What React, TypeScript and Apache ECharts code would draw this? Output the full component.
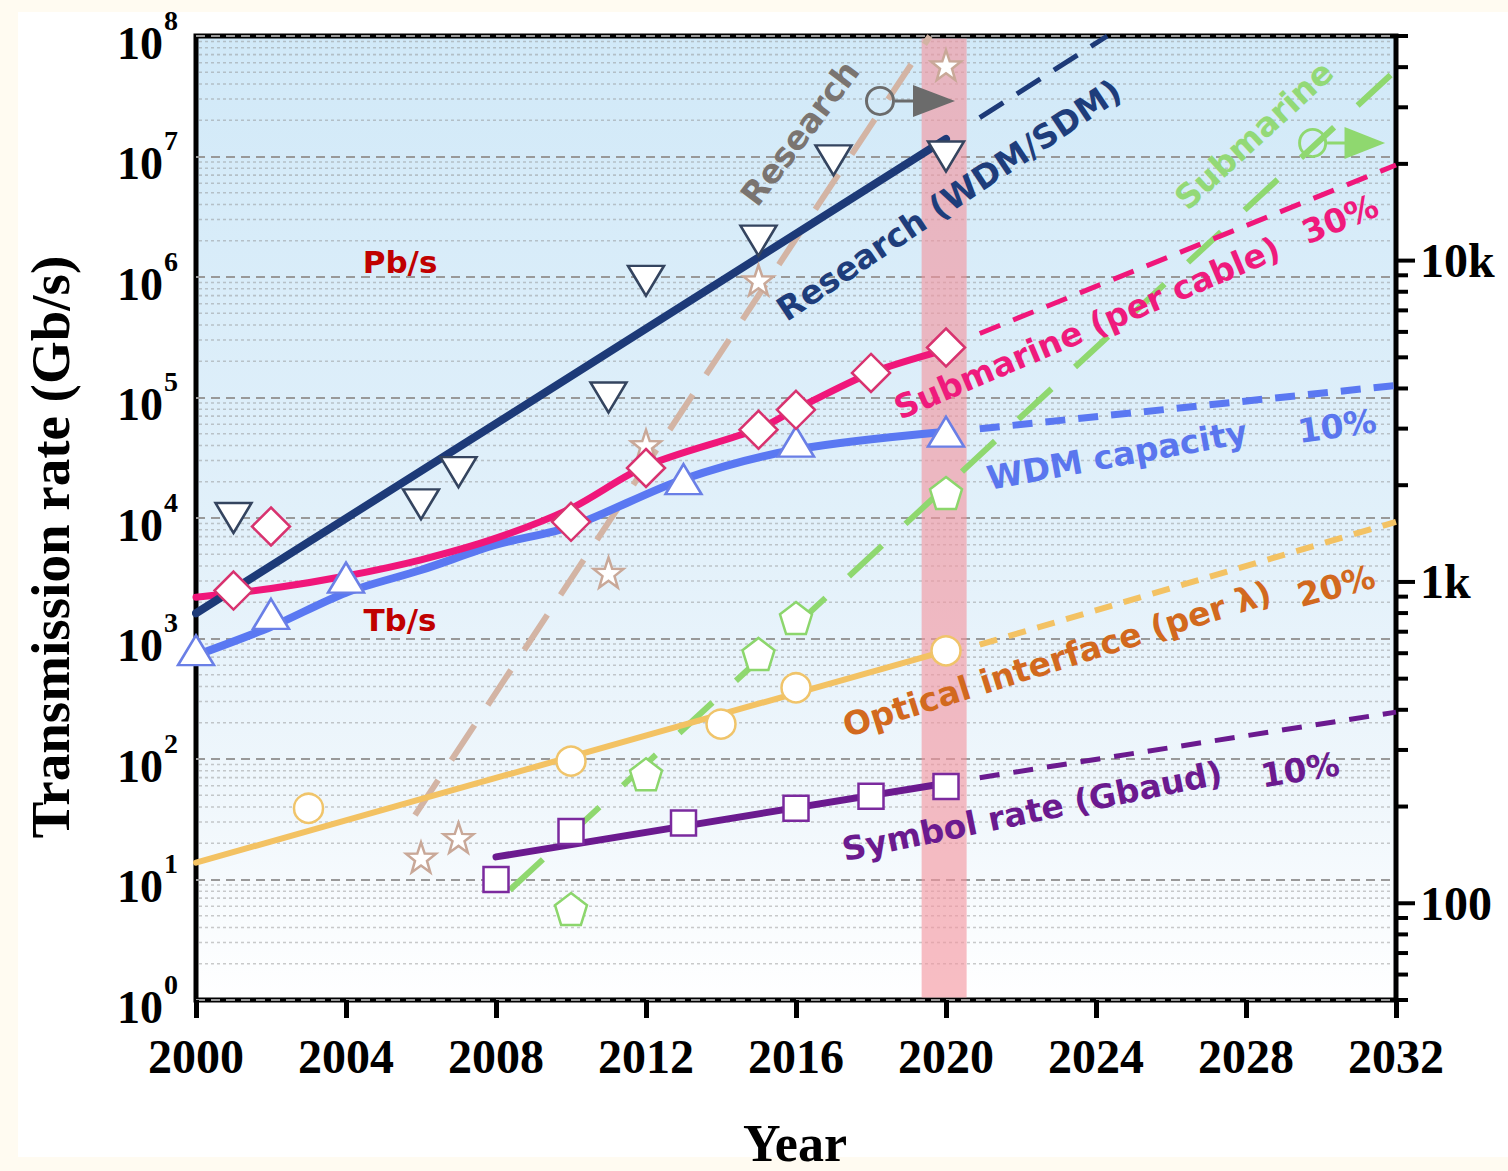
import React, { useEffect, useRef } from 'react';
import * as echarts from 'echarts';

// ---------------- data (left axis, Gb/s) ----------------
const researchWdmYears = [2001, 2006, 2007, 2011, 2012, 2015, 2017, 2020];
const researchWdmRates = [1.0e4, 1.3e4, 2.4e4, 1.0e5, 9.3e5, 2.0e6, 9.3e6, 1.0e7];
const researchWdmFit = [[2000, 1.62e3], [2020, 1.4e7]];
const researchWdmProjection = [[2020.9, 2.1e7], [2024.3, 1e8]];

const submarineCableYears = [2001, 2002, 2010, 2012, 2015, 2016, 2018, 2020];
const submarineCableRates = [2.5e3, 8.5e3, 9.3e3, 2.6e4, 5.4e4, 7.9e4, 1.6e5, 2.6e5];
const submarineCableFit = [
  [2000, 2.2e3], [2002, 2.6e3], [2004, 3.3e3], [2006, 4.5e3], [2008, 6.8e3],
  [2010, 1.2e4], [2012, 2.7e4], [2015, 5.5e4], [2016, 8.0e4], [2018, 1.6e5], [2020, 2.5e5],
];
const submarineCableProjection = [[2020.9, 3.4e5], [2032, 8.5e6]];

const wdmYears = [2000, 2002, 2004, 2013, 2016, 2020];
const wdmRates = [800, 1.6e3, 3.2e3, 2.1e4, 4.3e4, 5.2e4];
const wdmFit = [
  [2000, 725], [2002, 1.25e3], [2004, 2.4e3], [2006, 3.7e3], [2008, 6.0e3],
  [2010, 8.5e3], [2013, 2.1e4], [2016, 3.7e4], [2020, 5.2e4],
];
const wdmProjection = [[2020.9, 5.5e4], [2032, 1.26e5]];

const opticalYears = [2003, 2010, 2014, 2016, 2020];
const opticalRates = [39, 96, 195, 390, 790];
const opticalFit = [[2000, 13.8], [2020, 790]];
const opticalProjection = [[2020.9, 890], [2032, 9.3e3]];

const symbolRateYears = [2008, 2010, 2013, 2016, 2018, 2020];
const symbolRateValues = [10, 25, 29.5, 39, 49, 59];
const symbolRateFit = [[2008, 15.4], [2020, 63]];
const symbolRateProjection = [[2020.9, 70], [2032, 245]];

// ---------------- data (right axis) ----------------
const researchYears = [2006, 2007, 2011, 2012, 2015, 2020];
const researchValues = [139, 160, 1070, 2670, 8700, 40600];
const researchTrend = [[2005.84, 188], [2019.57, 50000]];

const submarineYears = [2010, 2012, 2015, 2016, 2020];
const submarineValues = [96, 252, 597, 772, 1890];
const submarineTrend = [[2008.37, 110], [2032, 39200]];

const researchAxisPointer = [2019.04, 31400];
const submarineAxisPointer = [2030.55, 23230];

const highlightPeriod = [2019.35, 2020.55];

// ---------------- ticks ----------------
const xTickInterval = 4;
const leftMinorTicks: number[] = [];
for (let e = 0; e < 8; e++) for (let m = 2; m <= 9; m++) leftMinorTicks.push(m * Math.pow(10, e));
const rightMajorTicks = [100, 1000, 10000];
const rightMajorLabels = ['100', '1k', '10k'];
const rightMinorTicks = [
  50, 60, 70, 80, 90,
  200, 300, 400, 500, 600, 700, 800, 900,
  2000, 3000, 4000, 5000, 6000, 7000, 8000, 9000,
  20000, 30000, 40000, 50000,
];

const pentagonPath = 'path://M0,-1 L0.951,-0.309 L0.588,0.809 L-0.588,0.809 L-0.951,-0.309 Z';
const starPath =
  'path://M0,-1 L0.235,-0.324 L0.951,-0.309 L0.380,0.124 L0.588,0.809 L0,0.4 L-0.588,0.809 L-0.380,0.124 L-0.951,-0.309 L-0.235,-0.324 Z';
const axisArrowPath =
  'path://M0,16 A15,15 0 1,0 30,16 A15,15 0 1,0 0,16 Z M3,16 A12,12 0 1,1 27,16 A12,12 0 1,1 3,16 Z M30,14.5 L49,14.5 L49,17.5 L30,17.5 Z M48,0 L90,16 L48,32 Z';

const labels = [
  { text: 'Research', x: 800, y: 133, angle: 52.8, color: '#7a7470', size: 33 },
  { text: 'Research (WDM/SDM)', x: 949, y: 200, angle: 33.7, color: '#1e3d7b', size: 33 },
  { text: 'Submarine', x: 1254, y: 135, angle: 42.6, color: '#93d977', size: 33 },
  { text: 'Submarine (per cable)', x: 1087, y: 328, angle: 23.1, color: '#ef1a7c', size: 33 },
  { text: '30%', x: 1340, y: 219, angle: 22, color: '#ef1a7c', size: 33 },
  { text: 'WDM capacity', x: 1117, y: 455, angle: 10.3, color: '#5a76ee', size: 33 },
  { text: '10%', x: 1337, y: 426, angle: 8, color: '#5a76ee', size: 33 },
  { text: 'Optical interface (per λ)', x: 1057, y: 659, angle: 17.6, color: '#d2691e', size: 33 },
  { text: '20%', x: 1336, y: 586, angle: 15, color: '#d2691e', size: 33 },
  { text: 'Symbol rate (Gbaud)', x: 1032, y: 811, angle: 11.6, color: '#6b1a8f', size: 33 },
  { text: '10%', x: 1300, y: 770, angle: 9, color: '#6b1a8f', size: 33 },
  { text: 'Pb/s', x: 400, y: 262, angle: 0, color: '#c00000', size: 31 },
  { text: 'Tb/s', x: 400, y: 620, angle: 0, color: '#c00000', size: 31 },
];

const serif = 'Liberation Serif';
const sans = 'DejaVu Sans';

const pairs = (xs: number[], ys: number[]) => xs.map((x, i) => [x, ys[i]]);

function lineSeries(data: number[][], color: string, width: number, dash: any, yAxisIndex = 0, smooth: any = false) {
  return {
    type: 'line',
    data,
    yAxisIndex,
    showSymbol: false,
    symbol: 'none',
    silent: true,
    smooth,
    z: 2,
    lineStyle: { color, width, type: dash, cap: dash === 'solid' ? 'round' : 'butt' },
    itemStyle: { color },
  };
}

function markerSeries(data: number[][], symbol: string, size: any, border: string, yAxisIndex = 0, rotate = 0) {
  return {
    type: 'scatter',
    data,
    yAxisIndex,
    symbol,
    symbolSize: size,
    symbolRotate: rotate,
    silent: true,
    z: 3,
    itemStyle: { color: '#ffffff', borderColor: border, borderWidth: 2.5, opacity: 1 },
  };
}

export default function App() {
  const ref = useRef<HTMLDivElement>(null);

  useEffect(() => {
    const chart = echarts.init(ref.current!, null, { renderer: 'svg' });

    const option: any = {
      animation: false,
      backgroundColor: 'transparent',
      grid: {
        left: 196,
        top: 36,
        width: 1200,
        height: 964,
        show: true,
        borderColor: '#000',
        borderWidth: 5,
        backgroundColor: {
          type: 'linear', x: 0, y: 0, x2: 0, y2: 1,
          colorStops: [
            { offset: 0, color: '#d1e9f8' },
            { offset: 0.5, color: '#e1f0fa' },
            { offset: 0.8, color: '#f0f7fc' },
            { offset: 1, color: '#ffffff' },
          ],
        },
      },
      xAxis: {
        type: 'value',
        min: 2000,
        max: 2032,
        interval: xTickInterval,
        axisLine: { show: false },
        axisTick: { show: true, length: 18, lineStyle: { color: '#000', width: 5 } },
        splitLine: { show: false },
        axisLabel: {
          margin: 32,
          formatter: (v: number) => String(v),
          color: '#000',
          fontFamily: serif,
          fontWeight: 'bold',
          fontSize: 48,
        },
      },
      yAxis: [
        {
          type: 'log',
          logBase: 10,
          min: 1,
          max: 1e8,
          axisLine: { show: false },
          axisTick: { show: false },
          splitLine: { show: true, lineStyle: { color: '#999999', width: 2, type: [9, 6] } },
          axisLabel: {
            margin: 18,
            formatter: (v: number) => '{b|10}{s|' + Math.round(Math.log10(v)) + '}',
            rich: {
              b: { fontFamily: serif, fontWeight: 'bold', fontSize: 46, lineHeight: 60, verticalAlign: 'bottom', color: '#000' },
              s: { fontFamily: serif, fontWeight: 'bold', fontSize: 28, lineHeight: 28, verticalAlign: 'top', color: '#000', padding: [0, 0, 0, 1] },
            },
          },
        },
        {
          type: 'log',
          logBase: 10,
          min: 50,
          max: 50000,
          position: 'right',
          axisLine: { show: false },
          axisTick: { show: false },
          splitLine: { show: false },
          axisLabel: {
            margin: 24,
            color: '#000',
            fontFamily: serif,
            fontWeight: 'bold',
            fontSize: 48,
            formatter: (v: number) => {
              for (let i = 0; i < rightMajorTicks.length; i++) {
                if (Math.abs(v - rightMajorTicks[i]) / rightMajorTicks[i] < 1e-6) return rightMajorLabels[i];
              }
              return '';
            },
          },
        },
      ],
      series: [
        // minor horizontal grid
        {
          type: 'custom',
          silent: true,
          z: 1,
          data: leftMinorTicks.map((v) => [2000, v]),
          renderItem: (params: any, api: any) => {
            const v = api.value(1);
            const p0 = api.coord([2000, v]);
            const p1 = api.coord([2032, v]);
            return {
              type: 'line',
              shape: { x1: p0[0] + 3, y1: p0[1], x2: p1[0] - 3, y2: p1[1] },
              style: { stroke: 'rgba(140,140,140,0.45)', lineWidth: 1.6, lineDash: [3, 3] },
            };
          },
        },
        // highlighted 2020 band
        {
          type: 'custom',
          silent: true,
          z: 1,
          data: [[highlightPeriod[0], 1, highlightPeriod[1], 1e8]],
          renderItem: (params: any, api: any) => {
            const a = api.coord([api.value(0), api.value(3)]);
            const b = api.coord([api.value(2), api.value(1)]);
            return {
              type: 'rect',
              shape: { x: a[0], y: a[1] + 2.5, width: b[0] - a[0], height: b[1] - a[1] - 5 },
              style: { fill: 'rgba(243,148,158,0.62)' },
            };
          },
        },
        // trends
        lineSeries(researchTrend, '#d3b4a4', 6, [42, 24], 1),
        lineSeries(submarineTrend, '#8fd86f', 6, [45, 32], 1),
        lineSeries(opticalFit, '#f3c263', 6, 'solid'),
        lineSeries(opticalProjection, '#f3c263', 6, [18, 12]),
        lineSeries(symbolRateFit, '#6b1a8f', 7, 'solid'),
        lineSeries(symbolRateProjection, '#6b1a8f', 5, [20, 14]),
        lineSeries(wdmFit, '#5a78f2', 8, 'solid', 0, 0.3),
        lineSeries(wdmProjection, '#5a78f2', 7, [20, 13]),
        lineSeries(submarineCableFit, '#f0167a', 7, 'solid', 0, 0.3),
        lineSeries(submarineCableProjection, '#f0167a', 5, [22, 14]),
        lineSeries(researchWdmFit, '#1d3a78', 8, 'solid'),
        lineSeries(researchWdmProjection, '#1d3a78', 5, [28, 16]),
        // markers
        markerSeries(pairs(opticalYears, opticalRates), 'circle', 29, '#f0c46a'),
        markerSeries(pairs(symbolRateYears, symbolRateValues), 'rect', 25, '#7b2a9e'),
        markerSeries(pairs(submarineYears, submarineValues), pentagonPath, 32, '#8cd66c', 1),
        markerSeries(pairs(researchYears, researchValues), starPath, 30, '#c9a898', 1),
        markerSeries(pairs(wdmYears, wdmRates), 'triangle', [36, 30], '#6a7fe6'),
        markerSeries(pairs(submarineCableYears, submarineCableRates), 'diamond', 38, '#d8336f'),
        markerSeries(pairs(researchWdmYears, researchWdmRates), 'triangle', [36, 30], '#34445f', 0, 180),
        // right-axis pointers
        {
          type: 'scatter',
          yAxisIndex: 1,
          silent: true,
          z: 4,
          symbol: axisArrowPath,
          symbolSize: [90, 32],
          data: [researchAxisPointer],
          itemStyle: { color: '#6b6b6b', opacity: 1 },
        },
        {
          type: 'scatter',
          yAxisIndex: 1,
          silent: true,
          z: 4,
          symbol: axisArrowPath,
          symbolSize: [87, 32],
          data: [submarineAxisPointer],
          itemStyle: { color: '#8fd86f', opacity: 1 },
        },
        // right axis ticks
        {
          type: 'custom',
          silent: true,
          clip: false,
          z: 5,
          yAxisIndex: 1,
          data: rightMinorTicks.map((v) => [2032, v, 10]).concat(rightMajorTicks.map((v) => [2032, v, 17])),
          renderItem: (params: any, api: any) => {
            const p = api.coord([api.value(0), api.value(1)]);
            return {
              type: 'line',
              shape: { x1: p[0] + 2, y1: p[1], x2: p[0] + 2 + api.value(2), y2: p[1] },
              style: { stroke: '#000', lineWidth: 4 },
            };
          },
        },
      ],
      graphic: {
        elements: [
          ...labels.map((l) => ({
            type: 'text',
            x: l.x,
            y: l.y,
            rotation: (l.angle * Math.PI) / 180,
            z: 10,
            silent: true,
            style: {
              text: l.text,
              fill: l.color,
              fontFamily: sans,
              fontWeight: 'bold',
              fontSize: l.size,
              align: 'center',
              verticalAlign: 'middle',
              textAlign: 'center',
              textVerticalAlign: 'middle',
            },
          })),
          {
            type: 'text',
            x: 50,
            y: 547,
            rotation: Math.PI / 2,
            z: 10,
            silent: true,
            style: {
              text: 'Transmission rate (Gb/s)',
              fill: '#000',
              fontFamily: serif,
              fontWeight: 'bold',
              fontSize: 55,
              align: 'center',
              verticalAlign: 'middle',
              textAlign: 'center',
              textVerticalAlign: 'middle',
            },
          },
          {
            type: 'text',
            x: 795,
            y: 1143,
            z: 10,
            silent: true,
            style: {
              text: 'Year',
              fill: '#000',
              fontFamily: serif,
              fontWeight: 'bold',
              fontSize: 52,
              align: 'center',
              verticalAlign: 'middle',
              textAlign: 'center',
              textVerticalAlign: 'middle',
            },
          },
        ],
      },
    };

    chart.setOption(option);
    return () => chart.dispose();
  }, []);

  return (
    <div style={{ position: 'fixed', left: 0, top: 0, width: 1508, height: 1171, background: '#fffbf1', overflow: 'hidden' }}>
      <div style={{ position: 'absolute', left: 18, top: 12, right: 0, bottom: 14, background: '#ffffff' }} />
      <div ref={ref} style={{ position: 'absolute', left: 0, top: 0, width: 1508, height: 1171 }} />
    </div>
  );
}
